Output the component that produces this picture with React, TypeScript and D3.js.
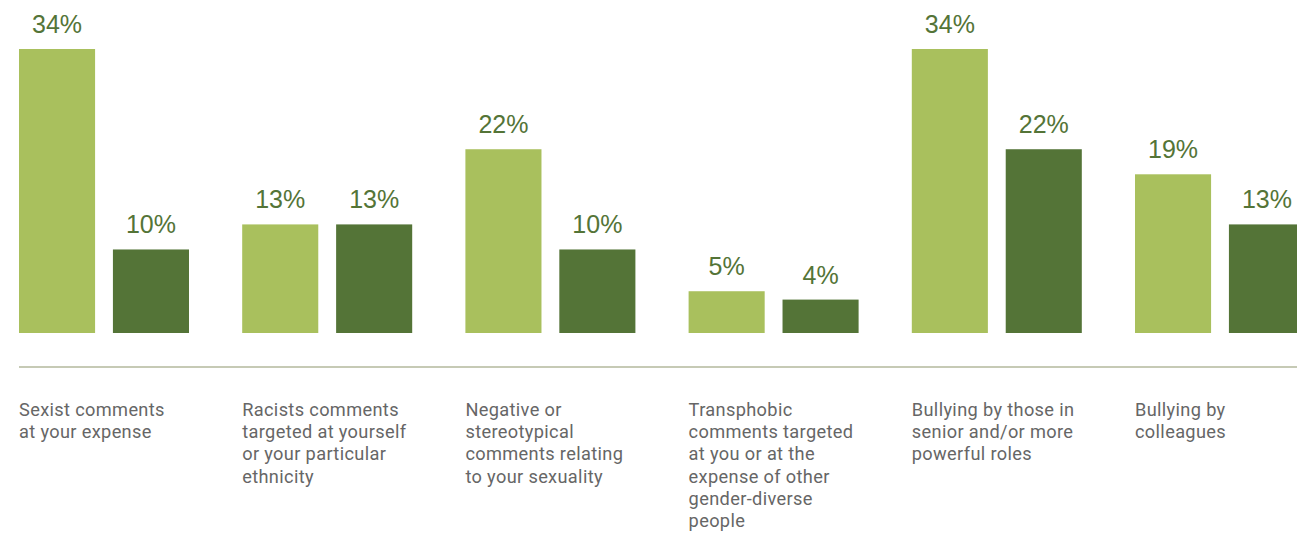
import React from "react";
import * as d3 from "d3";

const categories = [
  "Sexist comments at your expense",
  "Racists comments targeted at yourself or your particular ethnicity",
  "Negative or stereotypical comments relating to your sexuality",
  "Transphobic comments targeted at you or at the expense of other gender-diverse people",
  "Bullying by those in senior and/or more powerful roles",
  "Bullying by colleagues",
];
const categoryLines = [
  ["Sexist comments", "at your expense"],
  ["Racists comments", "targeted at yourself", "or your particular", "ethnicity"],
  ["Negative or", "stereotypical", "comments relating", "to your sexuality"],
  ["Transphobic", "comments targeted", "at you or at the", "expense of other", "gender-diverse", "people"],
  ["Bullying by those in", "senior and/or more", "powerful roles"],
  ["Bullying by", "colleagues"],
];
const seriesNames = ["light", "dark"];
const seriesA = [34, 13, 22, 5, 34, 19];
const seriesB = [10, 13, 10, 4, 22, 13];
const colors = ["#a9c05d", "#547437"];

export default function App() {
  const W = 1297, H = 535;
  const x = d3.scaleBand<string>().domain(categories).range([19, 19 + 6 * 223.2]).padding(0);
  const inner = d3.scaleBand<string>().domain(seriesNames).range([0, 170]).paddingInner(0.19).paddingOuter(0);
  const y = d3.scaleLinear().domain([0, 34]).range([333, 49]);
  const data = [seriesA, seriesB];
  return (
    <svg width={W} height={H} style={{ position: "absolute", left: 0, top: 0, background: "#fff" }}>
      {categories.map((c, i) => (
        <g key={c}>
          {data.map((s, j) => {
            const bx = (x(c) as number) + (inner(seriesNames[j]) as number);
            const bw = inner.bandwidth();
            return (
              <g key={j}>
                <rect x={bx} y={y(s[i])} width={bw} height={y(0) - y(s[i])} fill={colors[j]} />
                <text x={bx + bw / 2} y={y(s[i]) - 16} textAnchor="middle" fontFamily="Liberation Sans, Arial, sans-serif" fontSize={25} fill="#547437">
                  {s[i]}%
                </text>
              </g>
            );
          })}
          {categoryLines[i].map((l, k) => (
            <text key={k} x={x(c) as number} y={416 + k * 22.2} fontFamily="Roboto, sans-serif" fontSize={18.2} letterSpacing={0.35} fill="#666666">
              {l}
            </text>
          ))}
        </g>
      ))}
      <line x1={19} x2={W} y1={367} y2={367} stroke="#b3b89c" strokeWidth={1.5} />
    </svg>
  );
}
